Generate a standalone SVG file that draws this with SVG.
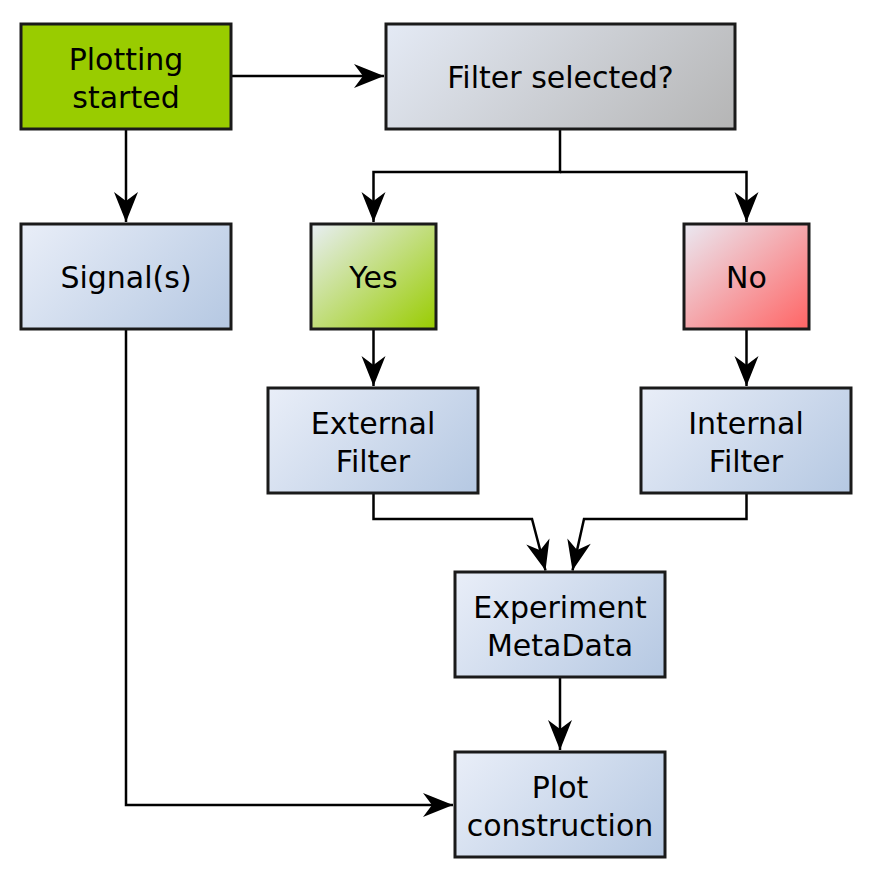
<svg xmlns="http://www.w3.org/2000/svg" width="878" height="882" viewBox="0 0 878 882">
<style>
.box{stroke:#1a1a1a;stroke-width:3}
.lbl{font-family:"DejaVu Sans",Verdana,sans-serif;font-size:30px;fill:#000;text-anchor:middle}
.con{fill:none;stroke:#000;stroke-width:2.5;marker-end:url(#arr)}
</style>
<defs>
<marker id="arr" markerUnits="userSpaceOnUse" viewBox="-31 -13 33 26" refX="0" refY="0" markerWidth="33" markerHeight="26" orient="auto">
<path d="M0,0 L-30,-12 L-21,0 L-30,12 Z" fill="#000"/>
</marker>
<linearGradient id="gBlue" x1="0" y1="0" x2="1.2" y2="0.6"><stop offset="0" stop-color="#e9eef8"/><stop offset="1" stop-color="#b5c8e2"/></linearGradient>
<linearGradient id="gGray" x1="0" y1="0" x2="1.19" y2="0.36"><stop offset="0" stop-color="#e4eaf5"/><stop offset="1" stop-color="#b5b5b5"/></linearGradient>
<linearGradient id="gGreen" x1="0" y1="0" x2="1" y2="1"><stop offset="0" stop-color="#e8eef4"/><stop offset="1" stop-color="#99cc00"/></linearGradient>
<linearGradient id="gRed" x1="0" y1="0" x2="1" y2="1"><stop offset="0" stop-color="#eae9f2"/><stop offset="1" stop-color="#ff6464"/></linearGradient>
</defs>
<g id="connectors">
<path class="con" d="M231,76 L384,76"/>
<path class="con" d="M126,129 L126,222"/>
<path class="con" d="M560,129 L560,172 L373.5,172 L373.5,222"/>
<path class="con" d="M560,172 L746.5,172 L746.5,222"/>
<path class="con" d="M373.5,329 L373.5,386"/>
<path class="con" d="M746.5,329 L746.5,386"/>
<path class="con" d="M373.5,493 L373.5,519 L532,519 L545.5,570.5"/>
<path class="con" d="M746.5,493 L746.5,519 L584,519 L572.5,570.5"/>
<path class="con" d="M560,677 L560,750"/>
<path class="con" d="M126,329 L126,805 L453,805"/>
</g>
<g id="plotting-started">
<rect class="box" x="21" y="24" width="210" height="105" fill="#99cc00"/>
<text class="lbl" x="126" y="70">Plotting</text>
<text class="lbl" x="126" y="108">started</text>
</g>
<g id="filter-selected">
<rect class="box" x="386" y="24" width="349" height="105" fill="url(#gGray)"/>
<text class="lbl" x="560.5" y="87.5">Filter selected?</text>
</g>
<g id="signals">
<rect class="box" x="21" y="224" width="210" height="105" fill="url(#gBlue)"/>
<text class="lbl" x="126" y="287.5">Signal(s)</text>
</g>
<g id="yes">
<rect class="box" x="311" y="224" width="125" height="105" fill="url(#gGreen)"/>
<text class="lbl" x="373.5" y="287.5">Yes</text>
</g>
<g id="no">
<rect class="box" x="684" y="224" width="125" height="105" fill="url(#gRed)"/>
<text class="lbl" x="746.5" y="287.5">No</text>
</g>
<g id="external-filter">
<rect class="box" x="268" y="388" width="210" height="105" fill="url(#gBlue)"/>
<text class="lbl" x="373" y="434">External</text>
<text class="lbl" x="373" y="472">Filter</text>
</g>
<g id="internal-filter">
<rect class="box" x="641" y="388" width="210" height="105" fill="url(#gBlue)"/>
<text class="lbl" x="746" y="434">Internal</text>
<text class="lbl" x="746" y="472">Filter</text>
</g>
<g id="experiment-metadata">
<rect class="box" x="455" y="572" width="210" height="105" fill="url(#gBlue)"/>
<text class="lbl" x="560" y="618">Experiment</text>
<text class="lbl" x="560" y="656">MetaData</text>
</g>
<g id="plot-construction">
<rect class="box" x="455" y="752" width="210" height="105" fill="url(#gBlue)"/>
<text class="lbl" x="560" y="798">Plot</text>
<text class="lbl" x="560" y="836">construction</text>
</g>
</svg>
